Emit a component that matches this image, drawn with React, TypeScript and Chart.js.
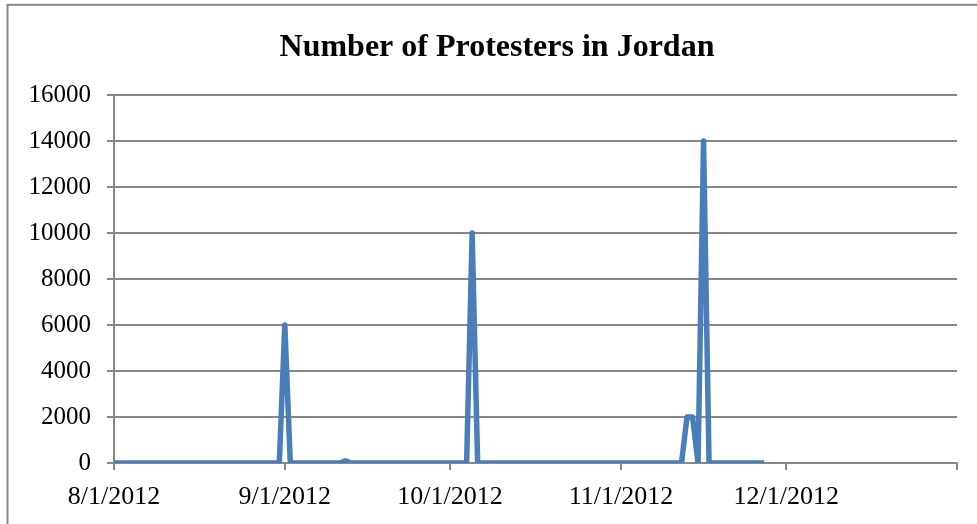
import React, { useEffect, useRef } from 'react';
import { Chart, registerables } from 'chart.js';

Chart.register(...registerables);

const TITLE = 'Number of Protesters in Jordan';

// Observation dates and protester counts (zero-valued stretches kept by their endpoints)
const dates = [
  '2012-08-01', '2012-08-31', '2012-09-01', '2012-09-02', '2012-09-11', '2012-09-12',
  '2012-09-13', '2012-10-04', '2012-10-05', '2012-10-06', '2012-11-12', '2012-11-13',
  '2012-11-14', '2012-11-15', '2012-11-16', '2012-11-17', '2012-11-27',
];
const protesters = [
  0, 0, 6000, 0, 0, 100,
  0, 0, 10000, 0, 0, 2000,
  2000, 0, 14000, 0, 0,
];

const tickDates = ['2012-08-01', '2012-09-01', '2012-10-01', '2012-11-01', '2012-12-01', '2013-01-01'];
const tickLabels = ['8/1/2012', '9/1/2012', '10/1/2012', '11/1/2012', '12/1/2012', ''];
const yMin = 0;
const yMax = 16000;
const yStep = 2000;

const DAY = 86400000;
const BASE = Date.parse('2012-08-01T00:00:00Z');
const toDay = (s: string) => (Date.parse(s + 'T00:00:00Z') - BASE) / DAY;

const FONT = "'Liberation Serif', 'Times New Roman', serif";
const GRID = '#888888';
const LINE = '#4A7EBB';

export default function App() {
  const ref = useRef<HTMLCanvasElement | null>(null);

  useEffect(() => {
    if (!ref.current) return;
    const framePlugin = {
      id: 'frame',
      beforeDraw(chart: any) {
        const ctx = chart.ctx;
        ctx.save();
        ctx.fillStyle = '#ffffff';
        ctx.fillRect(0, 0, chart.width, chart.height);
        ctx.strokeStyle = '#878787';
        ctx.lineWidth = 2;
        ctx.strokeRect(7.5, 4.8, chart.width + 50, chart.height + 50);
        ctx.restore();
      },
      afterDraw(chart: any) {
        const ctx = chart.ctx;
        ctx.save();
        ctx.fillStyle = '#000000';
        ctx.font = `bold 32px ${FONT}`;
        ctx.textAlign = 'center';
        ctx.textBaseline = 'alphabetic';
        ctx.fillText(TITLE, 497, 56);
        ctx.restore();
      },
    };

    const chart = new Chart(ref.current, {
      type: 'line',
      data: {
        datasets: [
          {
            data: dates.map((d, i) => ({ x: toDay(d), y: protesters[i] })),
            borderColor: LINE,
            backgroundColor: LINE,
            borderWidth: 5.5,
            pointRadius: 0,
            tension: 0,
            borderJoinStyle: 'round',
            fill: false,
          },
        ],
      },
      options: {
        animation: false,
        responsive: false,
        devicePixelRatio: 1,
        layout: { padding: { top: 95, right: 20, left: 0, bottom: 0 } },
        plugins: { legend: { display: false }, title: { display: false }, tooltip: { enabled: false } },
        scales: {
          x: {
            type: 'linear',
            min: toDay(tickDates[0]),
            max: toDay(tickDates[tickDates.length - 1]),
            afterBuildTicks: (axis: any) => {
              axis.ticks = tickDates.map((d) => ({ value: toDay(d) }));
            },
            afterFit: (s: any) => {
              s.height = 61;
            },
            ticks: {
              autoSkip: false,
              maxRotation: 0,
              color: '#000000',
              font: { family: FONT, size: 26 },
              padding: 12,
              callback: (_v: any, i: number) => tickLabels[i],
            },
            grid: { drawOnChartArea: false, tickLength: 7, color: GRID, lineWidth: 2 },
            border: { color: GRID, width: 2 },
          },
          y: {
            min: yMin,
            max: yMax,
            afterFit: (s: any) => {
              s.width = 114;
            },
            ticks: {
              stepSize: yStep,
              color: '#000000',
              font: { family: FONT, size: 25 },
              padding: 16,
              callback: (v: any) => String(v),
            },
            grid: { color: GRID, lineWidth: 2, tickLength: 7 },
            border: { color: GRID, width: 2 },
          },
        },
      },
      plugins: [framePlugin],
    } as any);
    return () => chart.destroy();
  }, []);

  return (
    <div style={{ position: 'fixed', left: 0, top: 0, width: 977, height: 524 }}>
      <canvas ref={ref} width={977} height={524} style={{ width: 977, height: 524 }} />
    </div>
  );
}
